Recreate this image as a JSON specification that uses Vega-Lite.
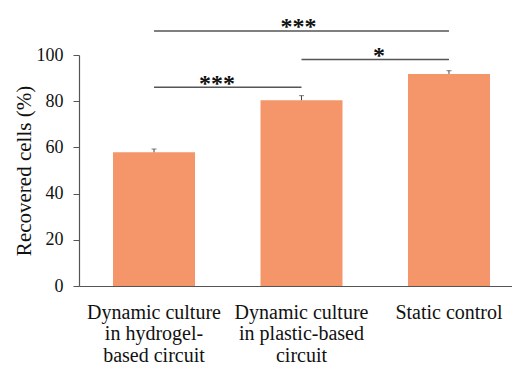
{
  "$schema": "https://vega.github.io/schema/vega-lite/v6.json",
  "width": 433,
  "height": 231,
  "autosize": {"type": "none"},
  "padding": {"left": 79, "top": 55, "right": 0, "bottom": 79},
  "background": "white",
  "config": {
    "view": {"stroke": null},
    "font": "Liberation Serif",
    "axis": {"labelFont": "Liberation Serif", "titleFont": "Liberation Serif"},
    "text": {"font": "Liberation Serif"}
  },
  "datasets": {
    "bars": [
      {"group": "Dynamic culture in hydrogel-based circuit", "recovered": 57.9, "upper": 59.3},
      {"group": "Dynamic culture in plastic-based circuit", "recovered": 80.4, "upper": 82.4},
      {"group": "Static control", "recovered": 91.8, "upper": 93.2}
    ],
    "brackets": [
      {"pair": "A", "from": "Dynamic culture in hydrogel-based circuit", "to": "Dynamic culture in plastic-based circuit", "level": 86, "label": "***"},
      {"pair": "B", "from": "Dynamic culture in plastic-based circuit", "to": "Static control", "level": 98.1, "label": "*"},
      {"pair": "C", "from": "Dynamic culture in hydrogel-based circuit", "to": "Static control", "level": 110.4, "label": "***"}
    ]
  },
  "encoding": {
    "x": {
      "field": "group",
      "type": "nominal",
      "sort": null,
      "scale": {
        "domain": ["Dynamic culture in hydrogel-based circuit", "Dynamic culture in plastic-based circuit", "Static control"],
        "paddingInner": 0.444,
        "paddingOuter": 0.19,
        "align": 0.607
      },
      "axis": {
        "title": null,
        "labelAngle": 0,
        "ticks": false,
        "domainColor": "#555555",
        "domainWidth": 1.2,
        "labelFont": "Liberation Serif",
        "labelFontSize": 20,
        "labelColor": "#111111",
        "labelPadding": 16,
        "labelLineHeight": 21.5,
        "labelLimit": 0,
        "labelOverlap": false,
        "labelExpr": "datum.value == 'Dynamic culture in hydrogel-based circuit' ? ['Dynamic culture', 'in hydrogel-', 'based circuit'] : datum.value == 'Dynamic culture in plastic-based circuit' ? ['Dynamic culture', 'in plastic-based', 'circuit'] : datum.value"
      }
    }
  },
  "layer": [
    {
      "data": {"name": "bars"},
      "mark": {"type": "bar", "color": "#F4956A"},
      "encoding": {
        "y": {
          "field": "recovered",
          "type": "quantitative",
          "scale": {"domain": [0, 100], "nice": false},
          "axis": {
            "values": [0, 20, 40, 60, 80, 100],
            "grid": false,
            "tickSize": 6,
            "tickColor": "#555555",
            "domainColor": "#555555",
            "domainWidth": 1.2,
            "labelFont": "Liberation Serif",
            "labelFontSize": 18,
            "labelColor": "#111111",
            "labelPadding": 10,
            "title": "Recovered cells (%)",
            "titleFont": "Liberation Serif",
            "titleFontSize": 21,
            "titleFontWeight": "normal",
            "titleColor": "#111111",
            "titlePadding": 2
          }
        }
      }
    },
    {
      "data": {"name": "bars"},
      "mark": {"type": "rule", "color": "#444444", "strokeWidth": 1},
      "encoding": {
        "y": {"field": "recovered", "type": "quantitative"},
        "y2": {"field": "upper"}
      }
    },
    {
      "data": {"name": "bars"},
      "mark": {"type": "tick", "color": "#444444", "thickness": 1, "size": 5},
      "encoding": {
        "y": {"field": "upper", "type": "quantitative"}
      }
    },
    {
      "data": {"name": "brackets"},
      "mark": {"type": "rule", "color": "#555555", "strokeWidth": 1.5},
      "encoding": {
        "x": {"field": "from", "type": "nominal"},
        "x2": {"field": "to"},
        "y": {"field": "level", "type": "quantitative"}
      }
    },
    {
      "data": {"name": "brackets"},
      "transform": [{"filter": "datum.pair == 'A'"}],
      "mark": {"type": "text", "font": "Liberation Serif", "fontWeight": "bold", "fontSize": 24, "color": "#111111", "dx": 63, "dy": 3.5, "baseline": "alphabetic", "align": "center"},
      "encoding": {
        "x": {"field": "from", "type": "nominal"},
        "y": {"field": "level", "type": "quantitative"},
        "text": {"field": "label"}
      }
    },
    {
      "data": {"name": "brackets"},
      "transform": [{"filter": "datum.pair == 'B'"}],
      "mark": {"type": "text", "font": "Liberation Serif", "fontWeight": "bold", "fontSize": 24, "color": "#111111", "dx": 77.5, "dy": 3.5, "baseline": "alphabetic", "align": "center"},
      "encoding": {
        "x": {"field": "from", "type": "nominal"},
        "y": {"field": "level", "type": "quantitative"},
        "text": {"field": "label"}
      }
    },
    {
      "data": {"name": "brackets"},
      "transform": [{"filter": "datum.pair == 'C'"}],
      "mark": {"type": "text", "font": "Liberation Serif", "fontWeight": "bold", "fontSize": 24, "color": "#111111", "dx": 144.5, "dy": 3.5, "baseline": "alphabetic", "align": "center"},
      "encoding": {
        "x": {"field": "from", "type": "nominal"},
        "y": {"field": "level", "type": "quantitative"},
        "text": {"field": "label"}
      }
    }
  ]
}
